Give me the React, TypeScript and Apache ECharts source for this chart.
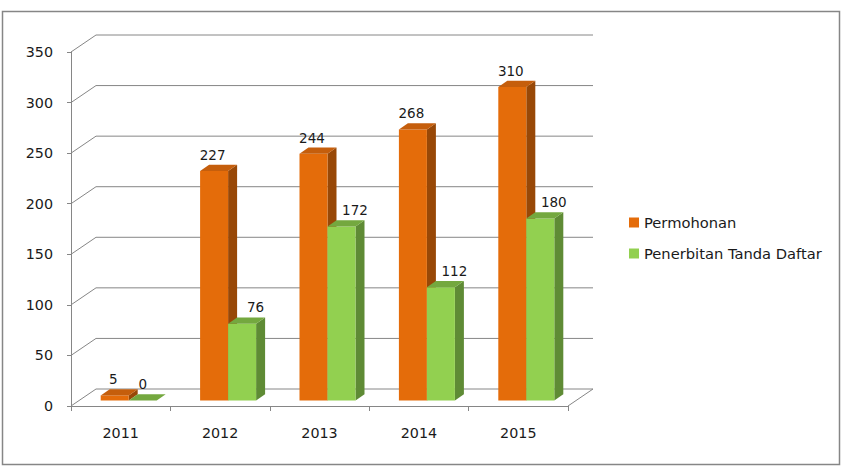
import React, { useEffect, useRef } from "react";
import * as echarts from "echarts";

const categories = ["2011", "2012", "2013", "2014", "2015"];
const permohonan = [5, 227, 244, 268, 310];
const penerbitan = [0, 76, 172, 112, 180];
const seriesNames = ["Permohonan", "Penerbitan Tanda Daftar"];
const gridValues = [0, 50, 100, 150, 200, 250, 300, 350];

const FONT = "DejaVu Sans";
const LINE = "#868686";
const DEPTH_X = 25;
const DEPTH_Y = -17;
const BAR_OFF_X = 8;
const BAR_OFF_Y = -5.5;
const BAR_DX = 9;
const BAR_DY = -6.2;

const palettes = [
  { front: "#E46C0A", side: "#984807", top: "#C55E0C" },
  { front: "#92D050", side: "#5F8B35", top: "#74A83F" },
];

function makeBarRender(si: number) {
  return (params: any, api: any) => {
    const ci = api.value(0);
    const v = api.value(1);
    const base = api.coord([ci, 0]);
    const topP = api.coord([ci, v]);
    const band = api.size([1, 0])[0];
    const bw = band * 0.2817;
    const x0 = base[0] - bw + si * bw + BAR_OFF_X;
    const x1 = x0 + bw;
    const yb = base[1] + BAR_OFF_Y;
    const yt = topP[1] + BAR_OFF_Y;
    const p = palettes[si];
    // second series' label moves right when the first bar of the pair is taller (avoids overlap)
    const shift = si === 1 && permohonan[ci] > v + 20 ? 13.5 : si === 0 ? -1.5 : 0;
    return {
      type: "group",
      children: [
        {
          type: "polygon",
          shape: { points: [[x1, yt], [x1 + BAR_DX, yt + BAR_DY], [x1 + BAR_DX, yb + BAR_DY], [x1, yb]] },
          style: { fill: p.side },
        },
        {
          type: "rect",
          shape: { x: x0, y: yt, width: bw, height: Math.max(0, yb - yt) },
          style: { fill: p.front },
        },
        {
          type: "polygon",
          shape: { points: [[x0, yt], [x1, yt], [x1 + BAR_DX, yt + BAR_DY], [x0 + BAR_DX, yt + BAR_DY]] },
          style: { fill: p.top },
        },
        {
          type: "text",
          x: x0 + bw / 2 + shift,
          y: yt + BAR_DY - 3,
          style: {
            text: String(v),
            fill: "#1a1a1a",
            font: `13.5px "${FONT}"`,
            textAlign: "center",
            textVerticalAlign: "bottom",
          },
        },
      ],
    };
  };
}

function wallRender(params: any, api: any) {
  const v = api.value(0);
  const cs = params.coordSys;
  const y = api.coord([0, v])[1];
  const xl = cs.x;
  const xr = cs.x + cs.width;
  const children: any[] = [
    {
      type: "polyline",
      shape: { points: [[xl, y], [xl + DEPTH_X, y + DEPTH_Y], [xr + DEPTH_X, y + DEPTH_Y]] },
      style: { stroke: LINE, lineWidth: 1, fill: "none" },
    },
  ];
  if (v === 0) {
    children.push({
      type: "line",
      shape: { x1: xr, y1: y, x2: xr + DEPTH_X, y2: y + DEPTH_Y },
      style: { stroke: LINE, lineWidth: 1 },
    });
  }
  return { type: "group", children };
}

export default function App() {
  const ref = useRef<HTMLDivElement>(null);
  useEffect(() => {
    if (!ref.current) return;
    const chart = echarts.init(ref.current, null, { renderer: "svg" });
    chart.setOption({
      animation: false,
      backgroundColor: "#ffffff",
      textStyle: { fontFamily: FONT },
      grid: { left: 71, top: 52, width: 497, height: 354, containLabel: false },
      legend: {
        orient: "vertical",
        left: 629,
        top: 215,
        padding: 0,
        itemWidth: 10,
        itemHeight: 10,
        itemGap: 16,
        icon: "rect",
        data: seriesNames,
        textStyle: { fontFamily: FONT, fontSize: 14.7, lineHeight: 15, color: "#1a1a1a", padding: [0, 0, 0, 0] },
      },
      xAxis: {
        type: "category",
        data: categories,
        boundaryGap: true,
        axisLine: { show: true, lineStyle: { color: LINE, width: 1 } },
        axisTick: { show: true, length: 5, interval: 0, lineStyle: { color: LINE } },
        axisLabel: { margin: 20, fontFamily: FONT, fontSize: 14.3, color: "#1a1a1a" },
        splitLine: { show: false },
      },
      yAxis: {
        type: "value",
        min: 0,
        max: 350,
        interval: 50,
        axisLine: { show: true, lineStyle: { color: LINE, width: 1 } },
        axisTick: { show: true, length: 4, lineStyle: { color: LINE } },
        axisLabel: { margin: 18, fontFamily: FONT, fontSize: 14.3, color: "#1a1a1a" },
        splitLine: { show: false },
      },
      graphic: [
        {
          type: "rect",
          shape: { x: 2.5, y: 11.5, width: 837, height: 453 },
          style: { fill: "none", stroke: LINE, lineWidth: 1.5 },
          silent: true,
        },
      ],
      series: [
        {
          type: "custom",
          name: "wall",
          renderItem: wallRender,
          data: gridValues.map((v) => [v]),
          encode: { y: 0 },
          clip: false,
          silent: true,
          z: 1,
        },
        {
          type: "custom",
          name: seriesNames[0],
          renderItem: makeBarRender(0),
          data: permohonan.map((v, i) => [i, v]),
          encode: { x: 0, y: 1 },
          itemStyle: { color: palettes[0].front },
          clip: false,
          z: 3,
        },
        {
          type: "custom",
          name: seriesNames[1],
          renderItem: makeBarRender(1),
          data: penerbitan.map((v, i) => [i, v]),
          encode: { x: 0, y: 1 },
          itemStyle: { color: palettes[1].front },
          clip: false,
          z: 4,
        },
      ],
    });
    return () => chart.dispose();
  }, []);
  return (
    <div
      ref={ref}
      style={{ position: "fixed", left: 0, top: 0, width: 842, height: 474 }}
    />
  );
}
